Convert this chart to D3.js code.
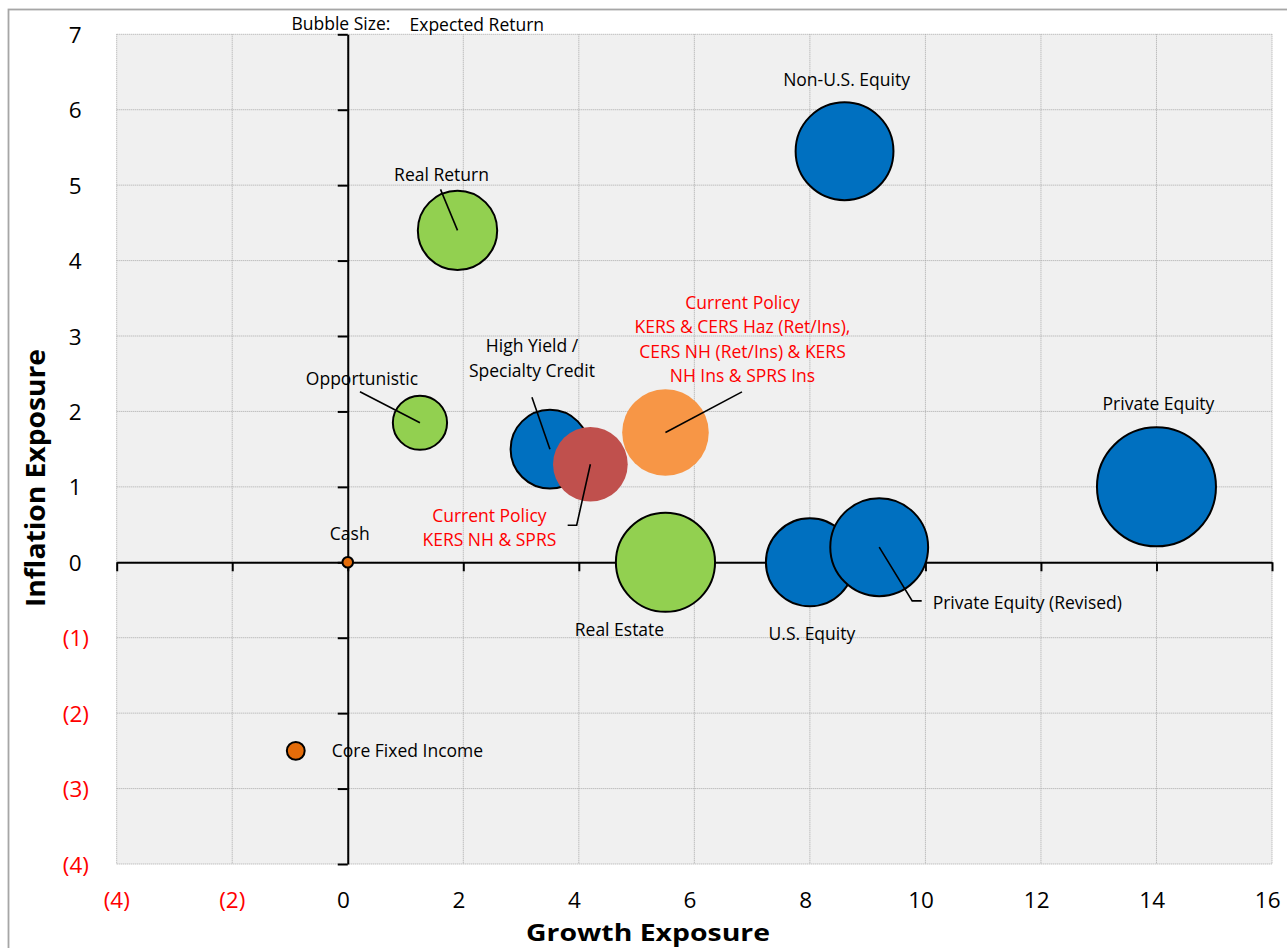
<!DOCTYPE html>
<html>
<head>
<meta charset="utf-8">
<script src="https://cdn.jsdelivr.net/npm/d3@7"></script>
<style>
  html, body { margin: 0; padding: 0; background: #ffffff; }
  svg { display: block; }
  text { font-family: "Open Sans", "Noto Sans", sans-serif; }
</style>
</head>
<body>
<svg id="chart" width="1287" height="948"></svg>
<script>
// Asset classes plotted by growth exposure (x), inflation exposure (y); bubble size = expected return
const categories = [
  "Real Return", "Opportunistic", "High Yield / Specialty Credit", "Real Estate",
  "U.S. Equity", "Private Equity (Revised)", "Non-U.S. Equity", "Private Equity",
  "Current Policy KERS & CERS Haz (Ret/Ins), CERS NH (Ret/Ins) & KERS NH Ins & SPRS Ins",
  "Current Policy KERS NH & SPRS", "Cash", "Core Fixed Income"
];
const growthExposure    = [1.9, 1.25, 3.5, 5.5, 8.0, 9.2, 8.6, 14.0, 5.5, 4.2, 0.0, -0.9];
const inflationExposure = [4.4, 1.85, 1.5, 0.0, 0.0, 0.2, 5.45, 1.0, 1.72, 1.3, 0.0, -2.5];
const expectedReturn    = [6.0, 4.1, 5.95, 7.5, 6.65, 7.4, 7.4, 9.0, 6.55, 5.65, 0.8, 1.35];
const assetGroup = ["real", "real", "growth", "real", "growth", "growth", "growth", "growth",
                    "policyA", "policyB", "defensive", "defensive"];

const xTickValues = [-4, -2, 0, 2, 4, 6, 8, 10, 12, 14, 16];
const yTickValues = [-4, -3, -2, -1, 0, 1, 2, 3, 4, 5, 6, 7];

// Fill/outline per group
const groupStyle = {
  growth:    { fill: "#0070C0", stroke: "#000000" },
  real:      { fill: "#92D050", stroke: "#000000" },
  policyA:   { fill: "#F79646", stroke: "none" },
  policyB:   { fill: "#C0504D", stroke: "none" },
  defensive: { fill: "#E46C0A", stroke: "#000000" }
};

// Label layout relative to each bubble centre (pixels)
const labelLayout = [
  { lines: ["Real Return"], dx: -16, dy: [-49], anchor: "middle", leader: [[-17, -41], [0, 0]] },
  { lines: ["Opportunistic"], dx: -58, dy: [-38], anchor: "middle", leader: [[-60, -31], [0, 0]] },
  { lines: ["High Yield /", "Specialty Credit"], dx: -18, dy: [-97, -72.5], anchor: "middle", leader: [[-18, -52], [0, 0]] },
  { lines: ["Real Estate"], dx: -46, dy: [74], anchor: "middle" },
  { lines: ["U.S. Equity"], dx: 2, dy: [78], anchor: "middle" },
  { lines: ["Private Equity (Revised)"], dx: 53.5, dy: [62], anchor: "start", leader: [[0, 0], [33, 53.7], [42.5, 53.7]] },
  { lines: ["Non-U.S. Equity"], dx: 2, dy: [-65], anchor: "middle" },
  { lines: ["Private Equity"], dx: 2, dy: [-77], anchor: "middle" },
  { lines: ["Current Policy", "KERS & CERS Haz (Ret/Ins),", "CERS NH (Ret/Ins) & KERS", "NH Ins & SPRS Ins"],
    dx: 77, dy: [-124, -99.2, -74.6, -50.5], anchor: "middle", color: "#FF0000", leader: [[76.5, -40.7], [0, 0]] },
  { lines: ["Current Policy", "KERS NH & SPRS"], dx: -101, dy: [58, 82], anchor: "middle", color: "#FF0000",
    leader: [[0, 0], [-13.7, 61], [-22.7, 61]] },
  { lines: ["Cash"], dx: 2, dy: [-22], anchor: "middle" },
  { lines: ["Core Fixed Income"], dx: 36, dy: [6.5], anchor: "start" }
];

const W = 1287, H = 948;
const plot = { left: 116.7, right: 1272, top: 34.3, bottom: 864 };

const svg = d3.select("#chart");

const x = d3.scaleLinear().domain([-4, 16]).range([plot.left, plot.right]);
const y = d3.scaleLinear().domain([-4, 7]).range([plot.bottom, plot.top]);
const r = d3.scaleLinear().domain([0, 9]).range([0, 59.5]);

const fmt = v => v < 0 ? `(${-v})` : `${v}`;

// Outer chart frame
svg.append("rect")
  .attr("x", 8.5).attr("y", 9.5)
  .attr("width", W + 20).attr("height", H + 20)
  .attr("fill", "none").attr("stroke", "#a6a6a6").attr("stroke-width", 1.8);

// Plot area background
svg.append("rect")
  .attr("x", plot.left).attr("y", plot.top)
  .attr("width", plot.right - plot.left).attr("height", plot.bottom - plot.top)
  .attr("fill", "#F0F0F0");

// Dotted gridlines
const grid = svg.append("g").attr("stroke", "#a8a8a8").attr("stroke-width", 1)
  .attr("stroke-dasharray", "1,1");
grid.selectAll("line.gx").data(xTickValues).join("line")
  .attr("x1", d => x(d)).attr("x2", d => x(d))
  .attr("y1", plot.top).attr("y2", plot.bottom);
grid.selectAll("line.gy").data(yTickValues).join("line")
  .attr("x1", plot.left).attr("x2", plot.right)
  .attr("y1", d => y(d)).attr("y2", d => y(d));

// Axes crossing at the origin
const xAxis = d3.axisBottom(x).tickValues(xTickValues).tickSize(9).tickSizeOuter(0).tickFormat("");
const yAxis = d3.axisLeft(y).tickValues(yTickValues).tickSize(10).tickSizeOuter(0).tickFormat("");

const gx = svg.append("g").attr("transform", `translate(0,${y(0)})`).call(xAxis);
const gy = svg.append("g").attr("transform", `translate(${x(0)},0)`).call(yAxis);
[gx, gy].forEach(g => {
  g.select(".domain").attr("stroke", "#000").attr("stroke-width", 2);
  g.selectAll(".tick line").attr("stroke", "#000").attr("stroke-width", 2);
});

// Tick labels at the low end of each axis
svg.append("g").selectAll("text").data(xTickValues).join("text")
  .attr("x", d => x(d) + (d < 0 ? 0 : -4.3))
  .attr("y", 907.5)
  .attr("text-anchor", "middle")
  .attr("font-size", 22.5)
  .attr("fill", d => d < 0 ? "#FF0000" : "#000")
  .text(fmt);

svg.append("g").selectAll("text").data(yTickValues).join("text")
  .attr("x", d => d < 0 ? 89 : 81.5)
  .attr("y", d => y(d) + 8.5)
  .attr("text-anchor", "end")
  .attr("font-size", 22.5)
  .attr("fill", d => d < 0 ? "#FF0000" : "#000")
  .text(fmt);

// Axis titles
svg.append("text")
  .attr("x", 648).attr("y", 941)
  .attr("text-anchor", "middle")
  .attr("font-size", 24).attr("font-weight", 700)
  .attr("textLength", 244).attr("lengthAdjust", "spacingAndGlyphs")
  .text("Growth Exposure");

svg.append("text")
  .attr("transform", "translate(45,478) rotate(-90)")
  .attr("text-anchor", "middle")
  .attr("font-size", 26).attr("font-weight", 700)
  .attr("textLength", 258).attr("lengthAdjust", "spacingAndGlyphs")
  .text("Inflation  Exposure");

// Bubble-size note
svg.append("text").attr("x", 291.5).attr("y", 29.5).attr("font-size", 17.5).text("Bubble Size:");
svg.append("text").attr("x", 409.5).attr("y", 31).attr("font-size", 17.5).text("Expected Return");

// Bubbles
const data = categories.map((c, i) => ({
  name: c,
  gx: growthExposure[i],
  iy: inflationExposure[i],
  ret: expectedReturn[i],
  group: assetGroup[i],
  layout: labelLayout[i]
}));

svg.append("g").selectAll("circle").data(data).join("circle")
  .attr("cx", d => x(d.gx))
  .attr("cy", d => y(d.iy))
  .attr("r", d => r(d.ret))
  .attr("fill", d => groupStyle[d.group].fill)
  .attr("stroke", d => groupStyle[d.group].stroke)
  .attr("stroke-width", 2);

// Leader lines
const line = d3.line();
svg.append("g").selectAll("path").data(data.filter(d => d.layout.leader)).join("path")
  .attr("d", d => line(d.layout.leader.map(([dx, dy]) => [x(d.gx) + dx, y(d.iy) + dy])))
  .attr("fill", "none").attr("stroke", "#000").attr("stroke-width", 1.6);

// Data labels
const lbl = svg.append("g").selectAll("g").data(data).join("g");
lbl.each(function(d) {
  const g = d3.select(this);
  d.layout.lines.forEach((t, k) => {
    g.append("text")
      .attr("x", x(d.gx) + d.layout.dx)
      .attr("y", y(d.iy) + d.layout.dy[k])
      .attr("text-anchor", d.layout.anchor)
      .attr("font-size", 17.5)
      .attr("fill", d.layout.color || "#000")
      .text(t);
  });
});
</script>
</body>
</html>
